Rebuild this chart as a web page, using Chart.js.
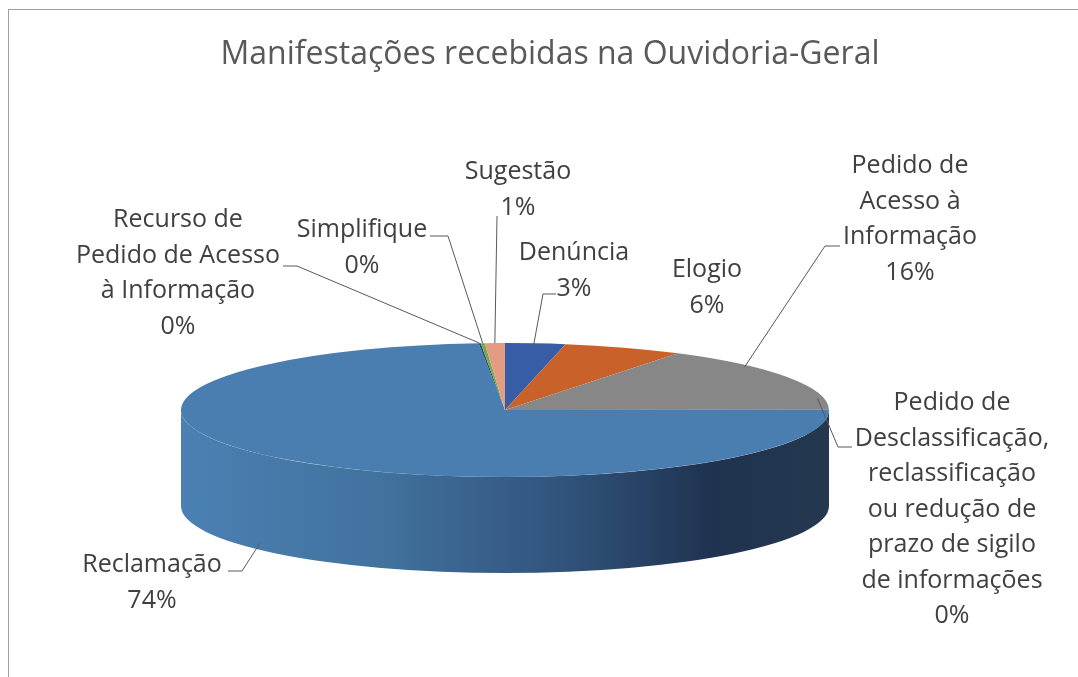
<!DOCTYPE html>
<html>
<head>
<meta charset="utf-8">
<title>Manifestações recebidas na Ouvidoria-Geral</title>
<script src="https://cdn.jsdelivr.net/npm/chart.js@4.4.1/dist/chart.umd.min.js"></script>
<style>
  html, body { margin: 0; padding: 0; background: #fff; }
  #wrap { width: 1078px; height: 677px; }
</style>
</head>
<body>
<div id="wrap"><canvas id="myChart" width="1078" height="677"></canvas></div>
<script>
// categories (multi-line labels, same breaks as the original chart)
const categories = [
    ['Denúncia'],
    ['Elogio'],
    ['Pedido de', 'Acesso à', 'Informação'],
    ['Pedido de', 'Desclassificação,', 'reclassificação', 'ou redução de', 'prazo de sigilo', 'de informações'],
    ['Reclamação'],
    ['Recurso de', 'Pedido de Acesso', 'à Informação'],
    ['Simplifique'],
    ['Sugestão']
];
// shares in percent (the 0% ones are tiny slivers)
const shares = [3, 6, 16, 0.05, 74, 0.1, 0.2, 1];
const sliceColors = ['#375DA6', '#C8622A', '#878787', '#E8A623', '#4A7EB0', '#264478', '#70AD47', '#E39C83'];
const chartTitle = 'Manifestações recebidas na Ouvidoria-Geral';

document.addEventListener("DOMContentLoaded", function () {

    // flattens the pie into an ellipse and draws the front side
    const pie3d = {
        id: 'pie3d',
        beforeDraw(chart) {
            const ctx = chart.ctx;
            ctx.save();
            ctx.fillStyle = '#fff';
            ctx.fillRect(0, 0, chart.width, chart.height);
            ctx.restore();
        },
        beforeDatasetsDraw(chart, args, opts) {
            const ctx = chart.ctx;
            const arc = chart.getDatasetMeta(0).data[0];
            const cx = arc.x, cy = arc.y, r = arc.outerRadius;
            const g = ctx.createLinearGradient(cx - opts.rx, 0, cx + opts.rx, 0);
            opts.sideStops.forEach(s => g.addColorStop(s[0], s[1]));
            ctx.save();
            ctx.beginPath();
            ctx.ellipse(cx, cy, opts.rx, opts.ry, 0, 0, Math.PI);
            ctx.lineTo(cx - opts.rx, cy + opts.depth);
            ctx.ellipse(cx, cy + opts.depth, opts.rx, opts.ry, 0, Math.PI, 0, true);
            ctx.closePath();
            ctx.fillStyle = g;
            ctx.fill();
            ctx.restore();
            // top face
            ctx.save();
            ctx.translate(cx, cy);
            ctx.scale(opts.rx / r, opts.ry / r);
            ctx.translate(-cx, -cy);
        },
        afterDatasetsDraw(chart) {
            chart.ctx.restore();
        }
    };

    // title, labels with leader lines, chart border
    const pieLabels = {
        id: 'pieLabels',
        afterDraw(chart, args, opts) {
            const ctx = chart.ctx;
            const p3 = chart.options.plugins.pie3d;
            const meta = chart.getDatasetMeta(0);
            const data = chart.data.datasets[0].data;
            const total = data.reduce((a, b) => a + b, 0);

            ctx.save();
            ctx.strokeStyle = '#a0a0a0';
            ctx.lineWidth = 1;
            ctx.strokeRect(8.5, 9.5, chart.width + 20, chart.height + 20);

            ctx.fillStyle = '#595959';
            ctx.font = opts.titleFont;
            ctx.textAlign = 'center';
            ctx.textBaseline = 'middle';
            ctx.fillText(chartTitle, opts.titleX, opts.titleY);

            ctx.font = opts.font;
            meta.data.forEach((el, i) => {
                const pos = opts.positions[i];
                const mid = (el.startAngle + el.endAngle) / 2 + (pos.da || 0) * Math.PI / 180;
                const ex = el.x + p3.rx * pos.k * Math.cos(mid);
                const ey = el.y + p3.ry * pos.k * Math.sin(mid) + (pos.side ? p3.depth : 0);
                if (pos.leader.length) {
                    ctx.beginPath();
                    ctx.strokeStyle = '#595959';
                    ctx.moveTo(pos.leader[0][0], pos.leader[0][1]);
                    pos.leader.slice(1).forEach(p => ctx.lineTo(p[0], p[1]));
                    ctx.lineTo(ex, ey);
                    ctx.stroke();
                }
                const lines = chart.data.labels[i].concat([Math.round(data[i] / total * 100) + '%']);
                ctx.fillStyle = '#404040';
                lines.forEach((t, j) => ctx.fillText(t, pos.x, pos.y + j * opts.lineH));
            });
            ctx.restore();
        }
    };

    const ctx = document.getElementById('myChart').getContext('2d');
    const myChart = new Chart(ctx, {
        type: 'pie',
        data: {
            labels: categories,
            datasets: [{
                data: shares,
                backgroundColor: sliceColors,
                borderWidth: 0,
                clip: false
            }]
        },
        options: {
            responsive: false,
            animation: false,
            events: [],
            layout: { padding: { left: 355, right: 423, top: 260, bottom: 117 } },
            plugins: {
                legend: { display: false },
                tooltip: { enabled: false },
                pie3d: {
                    rx: 324, ry: 67, depth: 96,
                    sideStops: [[0, '#4B80B3'], [0.3, '#42739F'], [0.6, '#30527A'], [0.82, '#1F3350'], [1, '#24384F']]
                },
                pieLabels: {
                    titleFont: '32px "Open Sans"',
                    titleX: 550, titleY: 55,
                    font: '25px "Open Sans"',
                    lineH: 35.5,
                    positions: [
                        { x: 574, y: 253, k: 0.92, leader: [[556, 294], [543, 294]] },
                        { x: 707, y: 270, k: 1, leader: [] },
                        { x: 910, y: 166, k: 0.98, da: -12, leader: [[840, 246], [825, 246]] },
                        { x: 952, y: 403, k: 0.98, da: -10, leader: [[852, 447], [838, 447]] },
                        { x: 152, y: 565, k: 0.94, da: 11, side: true, leader: [[228, 571], [242, 571]] },
                        { x: 178, y: 220, k: 1, leader: [[283, 266], [297, 266]] },
                        { x: 362, y: 230, k: 1, leader: [[430, 236], [448, 236]] },
                        { x: 518, y: 172, k: 1, leader: [[497, 216]] }
                    ]
                }
            }
        },
        plugins: [pie3d, pieLabels]
    });
});
</script>
</body>
</html>
